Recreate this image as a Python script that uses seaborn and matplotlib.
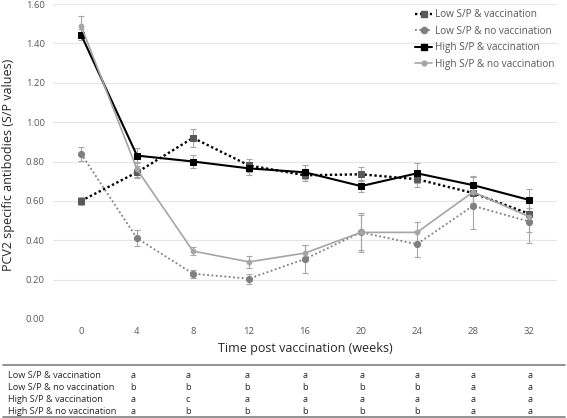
import pandas as pd
import numpy as np
import matplotlib.pyplot as plt
from matplotlib.lines import Line2D
import seaborn as sns

weeks = [0, 4, 8, 12, 16, 20, 24, 28, 32]
groups = ['Low S/P & vaccination', 'Low S/P & no vaccination',
          'High S/P & vaccination', 'High S/P & no vaccination']

low_vac = [0.60, 0.745, 0.92, 0.78, 0.73, 0.735, 0.71, 0.64, 0.535]
low_vac_err = [0.02, 0.03, 0.045, 0.035, 0.03, 0.035, 0.04, 0.05, 0.03]
low_novac = [0.84, 0.41, 0.23, 0.205, 0.305, 0.44, 0.38, 0.575, 0.495]
low_novac_err = [0.035, 0.04, 0.02, 0.025, 0.07, 0.09, 0.065, 0.12, 0.11]
high_vac = [1.445, 0.83, 0.80, 0.765, 0.745, 0.675, 0.74, 0.68, 0.605]
high_vac_err = [0.03, 0.04, 0.035, 0.035, 0.035, 0.03, 0.05, 0.04, 0.055]
high_novac = [1.49, 0.76, 0.345, 0.29, 0.335, 0.44, 0.44, 0.645, 0.52]
high_novac_err = [0.05, 0.04, 0.02, 0.03, 0.04, 0.10, 0.055, 0.08, 0.08]

# significance letters, weeks 4..32
letters = {
    'Low S/P & vaccination': ['a', 'a', 'a', 'a', 'a', 'a', 'a', 'a'],
    'Low S/P & no vaccination': ['b', 'b', 'b', 'b', 'b', 'b', 'a', 'a'],
    'High S/P & vaccination': ['a', 'c', 'a', 'a', 'a', 'a', 'a', 'a'],
    'High S/P & no vaccination': ['a', 'b', 'b', 'b', 'b', 'b', 'a', 'a'],
}

values = [low_vac, low_novac, high_vac, high_novac]
errors = [low_vac_err, low_novac_err, high_vac_err, high_novac_err]

df = pd.concat([pd.DataFrame({'week': weeks, 'value': v, 'err': e, 'group': g})
                for g, v, e in zip(groups, values, errors)])

line_colors = ['#000000', '#7f7f7f', '#000000', '#a5a5a5']
marker_colors = ['#595959', '#7f7f7f', '#000000', '#a5a5a5']
markers = ['s', 'o', 's', 'o']
msizes = [4.6, 4.4, 4.6, 3.4]
styles = [(0, (1, 1.1)), (0, (1, 1.4)), '-', '-']
widths = [1.7, 1.3, 1.5, 1.2]

sns.set_style('white')
plt.rcParams['font.family'] = ['Open Sans', 'DejaVu Sans']

fig = plt.figure(figsize=(5.67, 4.18), dpi=100)
ax = fig.add_axes([53 / 567, 1 - 319 / 418, 504 / 567, 315 / 418])

for i, g in enumerate(groups):
    d = df[df.group == g]
    ax.errorbar(d.week, d.value, yerr=d.err, fmt='none', ecolor='#a6a6a6',
                elinewidth=0.8, capsize=2, capthick=0.8, zorder=2)
    sns.lineplot(data=d, x='week', y='value', ax=ax, color=line_colors[i],
                 linewidth=widths[i], linestyle=styles[i], zorder=3 + i,
                 marker=markers[i], markersize=msizes[i],
                 markerfacecolor=marker_colors[i], markeredgecolor=marker_colors[i],
                 label=g, legend=False)

ax.set_xlim(-2, 34)
ax.set_ylim(0, 1.6)
ax.set_xticks(weeks)
ax.set_yticks(np.arange(0, 1.61, 0.2))
ax.set_yticklabels([f'{t:.2f}' for t in np.arange(0, 1.61, 0.2)])
ax.grid(axis='y', color='#e6e6e6', linewidth=0.8)
ax.set_axisbelow(True)
for s in ax.spines.values():
    s.set_visible(False)
ax.tick_params(axis='both', length=0, labelsize=6.8, labelcolor='#595959', pad=6)
ax.set_xlabel('Time post vaccination (weeks)', fontsize=9, color='#262626', labelpad=4)
ax.set_ylabel('PCV2 specific antibodies (S/P values)', fontsize=9, color='#262626')
ax.yaxis.set_label_coords(-0.075, 0.49)

handles = [Line2D([0], [0], color=line_colors[i], linestyle=styles[i], linewidth=widths[i],
                  marker=markers[i], markersize=msizes[i],
                  markerfacecolor=marker_colors[i], markeredgecolor=marker_colors[i])
           for i in range(4)]
ax.legend(handles, groups, loc='upper right', bbox_to_anchor=(1.012, 1.012), frameon=False,
          fontsize=7.2, handlelength=1.7, handletextpad=0.25, labelspacing=0.55,
          labelcolor='#595959')

# significance table below the chart
fig.add_artist(Line2D([3 / 567, 565 / 567], [1 - 365 / 418] * 2, color='#808080', linewidth=1.2))
fig.add_artist(Line2D([3 / 567, 565 / 567], [1 - 417 / 418] * 2, color='#808080', linewidth=1.2))
col_x = [133, 188, 247, 305, 362, 417, 473, 530]
row_y = [376, 388, 400, 412]
for g, y in zip(groups, row_y):
    fig.text(8 / 567, 1 - y / 418, g, fontsize=6.6, color='#262626', va='center')
    for x, l in zip(col_x, letters[g]):
        fig.text(x / 567, 1 - y / 418, l, fontsize=6.6, color='#262626', va='center', ha='center')

fig.savefig('out.png', dpi=100)
